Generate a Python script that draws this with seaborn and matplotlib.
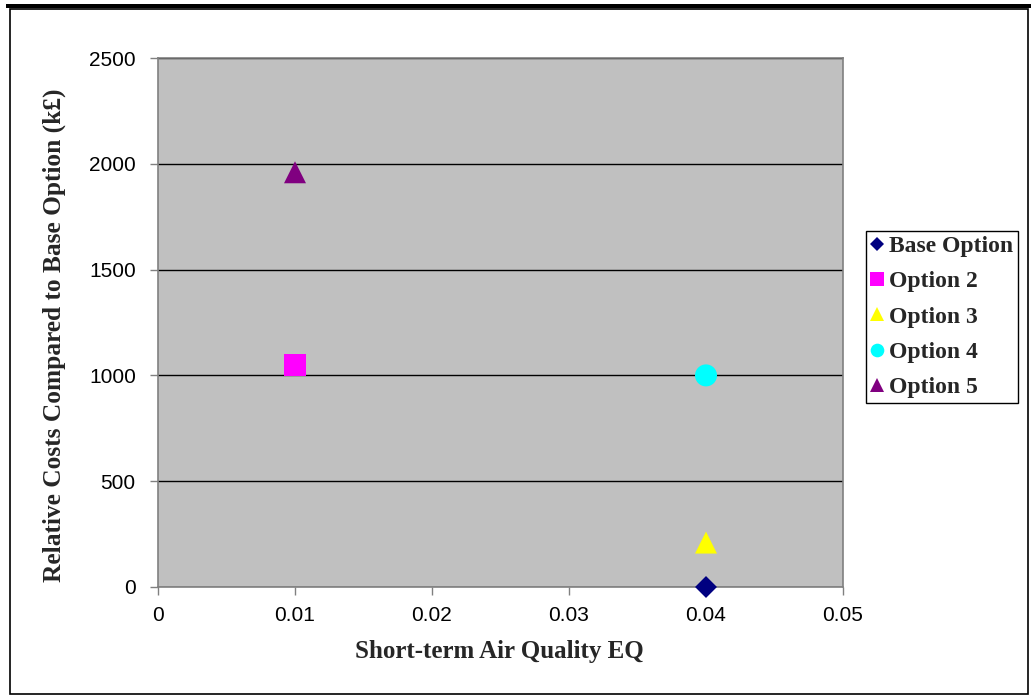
import matplotlib
matplotlib.use("Agg")
import matplotlib.pyplot as plt
import seaborn as sns
from matplotlib.patches import Rectangle
from matplotlib.lines import Line2D

# Option data: air quality EQ vs relative cost (k£)
options = ["Base Option", "Option 2", "Option 3", "Option 4", "Option 5"]
air_quality_eq = [0.04, 0.01, 0.04, 0.04, 0.01]
relative_cost = [0, 1050, 210, 1000, 1960]
colors = ["#000080", "#FF00FF", "#FFFF00", "#00FFFF", "#800080"]
markers = ["D", "s", "^", "o", "^"]
marker_px = [15.5, 22, 22, 22, 22]

x_ticks = [0, 0.01, 0.02, 0.03, 0.04, 0.05]
x_tick_labels = ["0", "0.01", "0.02", "0.03", "0.04", "0.05"]
y_ticks = [0, 500, 1000, 1500, 2000, 2500]

sns.set_theme(style="white")
plt.rcParams["font.family"] = ["Liberation Sans", "DejaVu Sans"]

W, H = 1031, 700
fig = plt.figure(figsize=(W / 100, H / 100), dpi=100)
ax = fig.add_axes([158 / W, 1 - 587 / H, (843 - 158) / W, (587 - 58) / H])
ax.set_facecolor("#C0C0C0")

pt = 72 / 100
for name, xv, yv, c, m, px in zip(options, air_quality_eq, relative_cost, colors, markers, marker_px):
    sns.scatterplot(x=[xv], y=[yv], ax=ax, marker=m, color=c, s=(px * pt) ** 2,
                    edgecolor="none", linewidth=0, zorder=5, clip_on=False, legend=False)

ax.set_xlim(0, 0.05)
ax.set_ylim(0, 2500)
ax.set_xticks(x_ticks)
ax.set_xticklabels(x_tick_labels)
ax.set_yticks(y_ticks)
ax.yaxis.grid(True, color="black", linewidth=1)
ax.xaxis.grid(False)
ax.set_axisbelow(True)

for side in ["left", "bottom", "top", "right"]:
    ax.spines[side].set_visible(True)
    ax.spines[side].set_color("#808080")
    ax.spines[side].set_linewidth(1.2)

ax.tick_params(axis="both", which="major", direction="out", length=6, width=1,
               color="#808080", labelsize=15, labelcolor="black",
               bottom=True, left=True)
ax.tick_params(axis="y", pad=10)
ax.tick_params(axis="x", pad=8)

serif = ["Liberation Serif", "DejaVu Serif"]
ax.set_xlabel("Short-term Air Quality EQ", fontsize=18, fontweight="bold", family=serif)
ax.set_ylabel("Relative Costs Compared to Base Option (k£)", fontsize=18.3,
              fontweight="bold", family=serif)
ax.xaxis.set_label_coords((499 - 158) / 685, (587 - 640) / 529)
ax.yaxis.set_label_coords((66 - 158) / 685, (587 - 335) / 529)

# Legend
handles = [Line2D([], [], linestyle="none", marker=m, color=c, markersize=(px * 0.62) * pt,
                  markeredgewidth=0)
           for c, m, px in zip(colors, markers, marker_px)]
leg = fig.legend(handles, options, loc="upper left",
                 bbox_to_anchor=(866 / W, 1 - 231 / H), bbox_transform=fig.transFigure,
                 frameon=True, fancybox=False, framealpha=1, edgecolor="black",
                 handlelength=0.55, handletextpad=0.22, labelspacing=0.58,
                 borderpad=0.2, borderaxespad=0,
                 prop={"family": serif, "weight": "bold", "size": 17})
leg.get_frame().set_linewidth(1)

# Page frame and heavy top rule
fig.patches.append(Rectangle((9.5 / W, 1 - 693.5 / H), (1028 - 9.5) / W, (693.5 - 9.3) / H,
                             transform=fig.transFigure, fill=False, edgecolor="black",
                             linewidth=1.2))
fig.patches.append(Rectangle((6 / W, 1 - 7.5 / H), (1030.5 - 6) / W, 3.5 / H,
                             transform=fig.transFigure, facecolor="black", edgecolor="none"))

fig.savefig("out.png", dpi=100, facecolor="white")
